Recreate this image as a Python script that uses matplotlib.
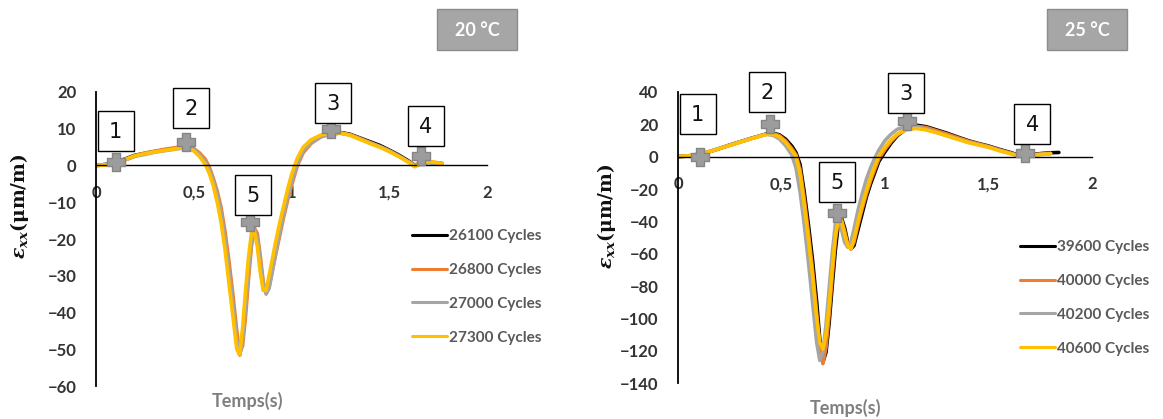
import matplotlib
matplotlib.use("Agg")
import matplotlib.pyplot as plt
from matplotlib.path import Path
from matplotlib.ticker import FixedLocator, FixedFormatter

plt.rcParams['font.family'] = ['Lato', 'DejaVu Sans']
plt.rcParams['mathtext.fontset'] = 'custom'
plt.rcParams['mathtext.it'] = 'DejaVu Serif:italic:bold'
plt.rcParams['mathtext.rm'] = 'DejaVu Serif:bold'

# ---- données 20 °C ----
t_20 = [0.00, 0.05, 0.10, 0.15, 0.20, 0.25, 0.30, 0.35, 0.40, 0.45, 0.50, 0.53, 0.56, 0.58,
        0.60, 0.62, 0.64, 0.66, 0.68, 0.70, 0.72, 0.735, 0.75, 0.765, 0.78, 0.795, 0.81,
        0.825, 0.84, 0.855, 0.87, 0.885, 0.90, 0.92, 0.94, 0.96, 0.98, 1.00, 1.03, 1.06,
        1.10, 1.15, 1.20, 1.25, 1.30, 1.35, 1.40, 1.45, 1.50, 1.55, 1.60, 1.63, 1.66, 1.70,
        1.74, 1.77]
c26100 = [0, 0.3, 0.8, 1.8, 2.8, 3.3, 3.8, 4.2, 4.6, 5.0, 4.2, 2.8, 0.8, -1.5,
          -4.5, -8.5, -13.5, -20.5, -29, -38, -48, -51.5, -47, -38, -28.5, -20.5, -17.5,
          -20, -27, -33, -34.5, -31.5, -27.5, -22, -17, -12.5, -8, -4, 1, 4.5,
          6.5, 8, 8.7, 9, 8.5, 7.5, 6.5, 5.5, 4.2, 2.8, 1.2, 0, 0.5, 0.9, 0.7, 0.5]
c26800 = [0, 0.1, 0.5, 1.5, 2.6, 3.4, 3.9, 4.4, 4.8, 5.2, 4.6, 3.4, 1.6, -0.5,
          -3.5, -7, -11.5, -18, -26, -35, -45, -51, -49, -41, -31, -22, -17,
          -18.5, -24.5, -31.5, -34.5, -33, -29, -24, -19, -14, -9.5, -5.5, 0, 3.5,
          6, 7.8, 8.6, 8.8, 8.4, 7.4, 6.3, 5.2, 4.0, 2.6, 1.0, 0.2, 0.6, 1.0, 0.8, 0.6]
c27000 = [0, 0.2, 0.6, 1.6, 2.5, 3.0, 3.6, 4.0, 4.4, 4.8, 4.3, 3.0, 1.0, -1.2,
          -4.2, -8, -13, -20, -28.5, -37.5, -47.5, -51.5, -47.5, -38.5, -29, -21, -17.5,
          -19.5, -26, -32, -35, -33.5, -29.5, -23.5, -18, -13, -8.5, -4.5, 0.5, 4,
          6.2, 7.8, 8.5, 8.8, 8.3, 7.2, 6.2, 5.2, 4.0, 2.5, 1.0, -0.2, 0.4, 0.8, 0.6, 0.4]
c27300 = [0, 0.2, 0.7, 1.7, 2.7, 3.2, 3.7, 4.1, 4.5, 4.9, 4.0, 2.4, 0.2, -2.2,
          -5.5, -10, -15.5, -23, -32, -41, -50, -51.5, -44, -34, -25, -18.5, -18,
          -22, -29, -34, -34, -30, -26, -20.5, -15.5, -11, -6.5, -2.5, 2, 5,
          7, 8.3, 8.8, 8.9, 8.2, 7.1, 6.0, 5.0, 3.8, 2.4, 0.8, -0.3, 0.5, 1.1, 0.8, 0.5]
noms_20 = ["26100 Cycles", "26800 Cycles", "27000 Cycles", "27300 Cycles"]
pts_20_t = [0.10, 0.46, 1.20, 1.66, 0.79]
pts_20_v = [1, 6.5, 10, 2.5, -15.5]

# ---- données 25 °C ----
t_25 = [0.00, 0.05, 0.10, 0.15, 0.20, 0.25, 0.30, 0.35, 0.40, 0.43, 0.46, 0.49, 0.52, 0.55,
        0.57, 0.59, 0.61, 0.63, 0.65, 0.67, 0.685, 0.70, 0.715, 0.73, 0.745, 0.76, 0.775,
        0.79, 0.805, 0.82, 0.835, 0.85, 0.87, 0.89, 0.91, 0.93, 0.95, 0.97, 1.00, 1.03,
        1.06, 1.10, 1.15, 1.20, 1.25, 1.30, 1.35, 1.40, 1.45, 1.50, 1.55, 1.60, 1.65, 1.68,
        1.72, 1.76, 1.80]
c39600 = [0, 0.4, 1.4, 3, 5, 7.2, 9.2, 11.2, 13, 14.2, 14.5, 13.5, 10.8, 6.5,
          2.5, -5, -22, -42, -64, -90, -113, -127, -121, -103, -80, -58, -41,
          -38, -44, -53, -57, -55, -45, -35, -25, -17, -10, -3, 3, 8.5,
          13, 17, 19.5, 18.5, 16.5, 14.5, 12.2, 10.0, 8.2, 6.6, 4.6, 2.8, 0.8, 1.0,
          1.5, 2.0, 2.4]
c40000 = [0, 0.5, 1.5, 3, 5, 7, 9, 11, 12.9, 14, 14.2, 13, 9.8, 5,
          1.2, -8, -26, -47, -70, -97, -118, -128, -118, -98, -74, -52, -39,
          -39, -46, -54, -57, -53, -42, -32, -23, -15, -8, -1.5, 4.5, 9.5,
          13.5, 16.8, 18.8, 18, 16, 14, 11.8, 9.7, 8, 6.3, 4.3, 2.5, 0.6, 0.8,
          1.3, 1.7, 2.1]
c40200 = [0, 0.5, 1.6, 3.2, 5.2, 7.2, 9.2, 11.2, 13, 13.8, 13.2, 11, 6.8, 1,
          -7, -22, -42, -65, -90, -115, -126, -121, -104, -82, -60, -42, -38,
          -45, -53, -56, -53, -45, -33, -23, -14, -7, -1, 4, 10, 14,
          17, 18.5, 18.5, 17, 15, 13, 11, 9, 7.5, 6, 4, 2.2, 0.4, 0.6,
          1.1, 1.5, 1.9]
c40600 = [0, 0.5, 1.5, 3, 5, 7, 9, 11, 12.8, 13.8, 13.8, 12.2, 8.8, 3.8,
          0.2, -11, -30, -51, -74, -100, -115, -119, -110, -92, -69, -49, -38,
          -40, -48, -55, -57, -51, -40, -30, -21, -13, -6, 0.5, 6, 10.5,
          14, 16.5, 17.5, 16.5, 14.8, 12.8, 10.8, 8.8, 7.3, 5.8, 3.8, 2.0, 0.3, 0.5,
          1.0, 1.4, 1.8]
t_39600 = t_25 + [1.84]
c39600 = c39600 + [2.6]
noms_25 = ["39600 Cycles", "40000 Cycles", "40200 Cycles", "40600 Cycles"]
pts_25_t = [0.105, 0.445, 1.105, 1.677, 0.77]
pts_25_v = [0, 20, 22, 2, -35]

pts_labels = ["1", "2", "3", "4", "5"]
x_ticks = [0, 0.5, 1, 1.5, 2]
x_ticklabels = ["0", "0,5", "1", "1,5", "2"]

couleurs = ["#000000", "#ed7d31", "#a5a5a5", "#ffc000"]

# croix épaisse (marqueur Excel)
a = 0.42
croix = Path([(-a, 1), (a, 1), (a, a), (1, a), (1, -a), (a, -a), (a, -1), (-a, -1),
              (-a, -a), (-1, -a), (-1, a), (-a, a), (-a, 1)], closed=True)

fig = plt.figure(figsize=(11.63, 4.19), dpi=100)


def boite_fixe(demi_l, demi_h, dy=0.0):
    # boîte de taille fixe (en pixels) centrée sur le texte
    def style(x0, y0, width, height, mutation_size):
        cx = x0 + width / 2
        cy = y0 + height / 2 + dy
        verts = [(cx - demi_l, cy - demi_h), (cx + demi_l, cy - demi_h),
                 (cx + demi_l, cy + demi_h), (cx - demi_l, cy + demi_h),
                 (cx - demi_l, cy - demi_h)]
        return Path(verts, closed=True)
    return style


def panneau(rect, series, noms, ylim, yticks, pts_t, pts_v, decal, titre, titre_xy,
            leg_xy, ylab_xy, xlab_xy):
    ax = fig.add_axes(rect)
    for (tt, vv), c, n in zip(series, couleurs, noms):
        ax.plot(tt, vv, color=c, lw=2.6, label=n, solid_capstyle='round')
    ax.plot(pts_t, pts_v, marker=croix, ms=13, color='#9c9c9c', mec='#858585', mew=1,
            zorder=5, ls='none')
    for tx, vy, lab, (dx, dy) in zip(pts_t, pts_v, pts_labels, decal):
        ax.annotate(lab, (tx, vy), xytext=(dx, dy), textcoords='offset pixels',
                    ha='center', va='center', fontsize=15, color='#111111',
                    family='DejaVu Sans', zorder=6,
                    bbox=dict(boxstyle=boite_fixe(18, 20, 1), fc='white', ec='black', lw=1))
    ax.set_xlim(0, 2)
    ax.set_ylim(*ylim)
    ax.spines['top'].set_visible(False)
    ax.spines['right'].set_visible(False)
    ax.spines['bottom'].set_position(('data', 0))
    ax.spines['left'].set_linewidth(1.3)
    ax.spines['bottom'].set_linewidth(1.0)
    ax.xaxis.set_major_locator(FixedLocator(x_ticks))
    ax.xaxis.set_major_formatter(FixedFormatter(x_ticklabels))
    ax.set_yticks(yticks)
    ax.tick_params(length=0, labelsize=12, labelcolor='#333333')
    ax.tick_params(axis='x', pad=14)
    ax.tick_params(axis='y', pad=14)
    for lb in ax.get_xticklabels() + ax.get_yticklabels():
        lb.set_fontweight('bold')
    ax.patch.set_alpha(0)

    leg = ax.legend(loc='upper left', bbox_to_anchor=leg_xy,
                    bbox_transform=fig.transFigure, frameon=False, fontsize=11,
                    handlelength=2.3, handletextpad=0.15, labelspacing=1.3,
                    borderpad=0, borderaxespad=0)
    for txt in leg.get_texts():
        txt.set_color('#595959')
        txt.set_fontweight('bold')
    for ln in leg.get_lines():
        ln.set_linewidth(2.2)

    fig.text(titre_xy[0], titre_xy[1], titre, ha='center', va='center',
             fontsize=13, fontweight='bold', color='white',
             bbox=dict(boxstyle=boite_fixe(40, 20.5, 1), fc='#a6a6a6', ec='#8c8c8c', lw=1))
    fig.text(ylab_xy[0], ylab_xy[1], r'$\varepsilon_{xx}$(μm/m)', rotation=90, ha='center',
             va='center', fontsize=13.5, family='DejaVu Serif', fontweight='bold',
             color='#111111')
    fig.text(xlab_xy[0], xlab_xy[1], "Temps(s)", ha='center', va='center',
             fontsize=13, fontweight='bold', color='#7f7f7f')
    return ax


W, H = 1163, 419
panneau([96 / W, 1 - 386 / H, (487 - 96) / W, (386 - 92) / H],
        [(t_20, c26100), (t_20, c26800), (t_20, c27000), (t_20, c27300)],
        noms_20, (-60, 20), list(range(-60, 21, 10)), pts_20_t, pts_20_v,
        [(0, 30), (5, 33), (2, 25), (5, 29), (3, 26)],
        "20 °C", (477 / W, 1 - 31 / H), (412 / W, 1 - 229 / H), (20 / W, 1 - 206 / H),
        (247 / W, 1 - 401 / H))

panneau([678 / W, 1 - 383 / H, (1092 - 678) / W, (383 - 92) / H],
        [(t_39600, c39600), (t_25, c40000), (t_25, c40200), (t_25, c40600)],
        noms_25, (-140, 40), list(range(-140, 41, 20)), pts_25_t, pts_25_v,
        [(-2, 42), (-3, 31), (-1, 27), (7, 28), (0, 30)],
        "25 °C", (1087 / W, 1 - 31 / H), (1020 / W, 1 - 240 / H), (606 / W, 1 - 216 / H),
        (845 / W, 1 - 408 / H))

fig.savefig("out.png", dpi=100)
